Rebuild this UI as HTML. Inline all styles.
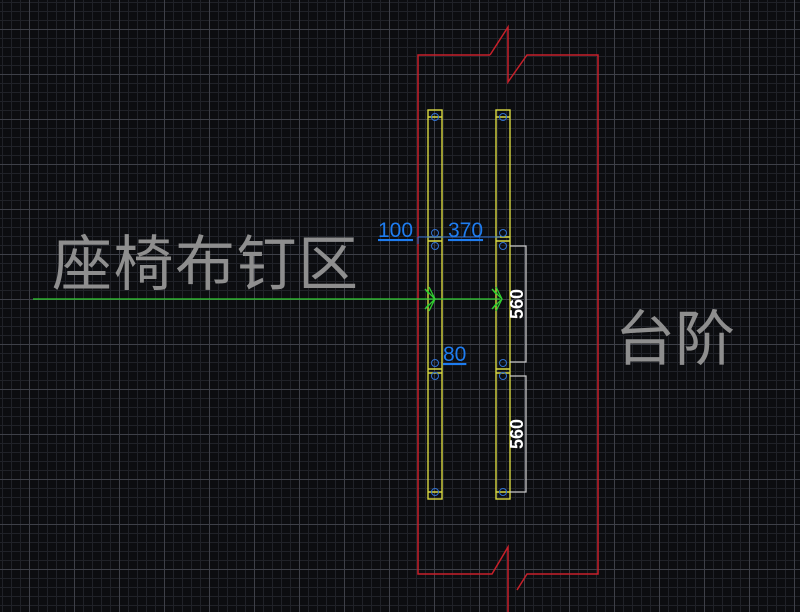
<!DOCTYPE html>
<html><head><meta charset="utf-8"><style>
html,body{margin:0;padding:0;background:#000;overflow:hidden;width:800px;height:612px}
</style></head><body>
<svg width="800" height="612" xmlns="http://www.w3.org/2000/svg" style="display:block">
<defs>
<pattern id="mn" width="9" height="9" patternUnits="userSpaceOnUse" x="2" y="2">
<path d="M0.5 0V9M0 0.5H9" stroke="#202228" stroke-width="1"/></pattern>
<pattern id="mj" width="45" height="45" patternUnits="userSpaceOnUse" x="29" y="29">
<path d="M0.5 0V45M0 0.5H45" stroke="#3e4048" stroke-width="1"/></pattern>
</defs>
<rect width="800" height="612" fill="#0c0d10"/>
<rect width="800" height="612" fill="url(#mn)"/>
<rect width="800" height="612" fill="url(#mj)"/>
<g stroke="#c8202a" stroke-width="1.5" fill="none">
<polyline points="490,55 418,55 418,574 492,574 508,547 508,612"/>
<polyline points="490,55 508,27 508,82 527,55 598,55 598,574 527,574 517,590"/>
</g>
<g stroke="#d8d840" stroke-width="1.4" fill="none">
<rect x="428" y="110" width="14" height="389"/>
<rect x="496" y="110" width="14" height="389"/>
<path d="M428 117H442M496 117H510M428 237H442M496 237H510M428 241H442M496 241H510M428 369H442M496 369H510M428 373H442M496 373H510M428 492H442M496 492H510"/>
</g>
<g stroke="#3070d0" stroke-width="1" fill="none">
<circle cx="435" cy="117" r="3.5"/><circle cx="503" cy="117" r="3.5"/>
<circle cx="435" cy="233" r="3.5"/><circle cx="503" cy="233" r="3.5"/>
<circle cx="435" cy="246" r="3.5"/><circle cx="503" cy="246" r="3.5"/>
<circle cx="435" cy="363" r="3.5"/><circle cx="503" cy="363" r="3.5"/>
<circle cx="435" cy="376" r="3.5"/><circle cx="503" cy="376" r="3.5"/>
<circle cx="435" cy="492" r="3.5"/><circle cx="503" cy="492" r="3.5"/>
<path d="M418 237H500M418 237V244"/>
</g>
<g stroke="#c8c8c8" stroke-width="1.3" fill="none">
<polyline points="510,246 526,246 526,362 510,362"/>
<polyline points="510,376 526,376 526,492 510,492"/>
</g>
<g stroke="#30d030" stroke-width="1.3" fill="none">
<path d="M33 299H500"/>
<path d="M425 289L435 299L425 309M429 287L435 299L429 311M425 289L429 294M425 309L429 304"/>
<path d="M492 289L502 299L492 309M496 287L502 299L496 311M492 289L496 294M492 309L496 304"/>
</g>
<g font-family="Liberation Sans, sans-serif" font-size="21" fill="#1e7cf0">
<text x="378" y="237" text-decoration="underline">100</text>
<text x="448" y="237" text-decoration="underline">370</text>
<text x="443" y="361" text-decoration="underline">80</text>
</g>
<g font-family="Liberation Sans, sans-serif" font-size="18" font-weight="bold" fill="#fff">
<text transform="translate(523,304) rotate(-90)" text-anchor="middle">560</text>
<text transform="translate(523,434) rotate(-90)" text-anchor="middle">560</text>
</g>
<g font-family="Liberation Sans, 'Noto Sans CJK SC', sans-serif" font-size="60" fill="#8e8e8e">
<text x="52" y="285" textLength="306">座椅布钉区</text>
<text x="615" y="360" textLength="120">台阶</text>
</g>
</svg>
</body></html>
